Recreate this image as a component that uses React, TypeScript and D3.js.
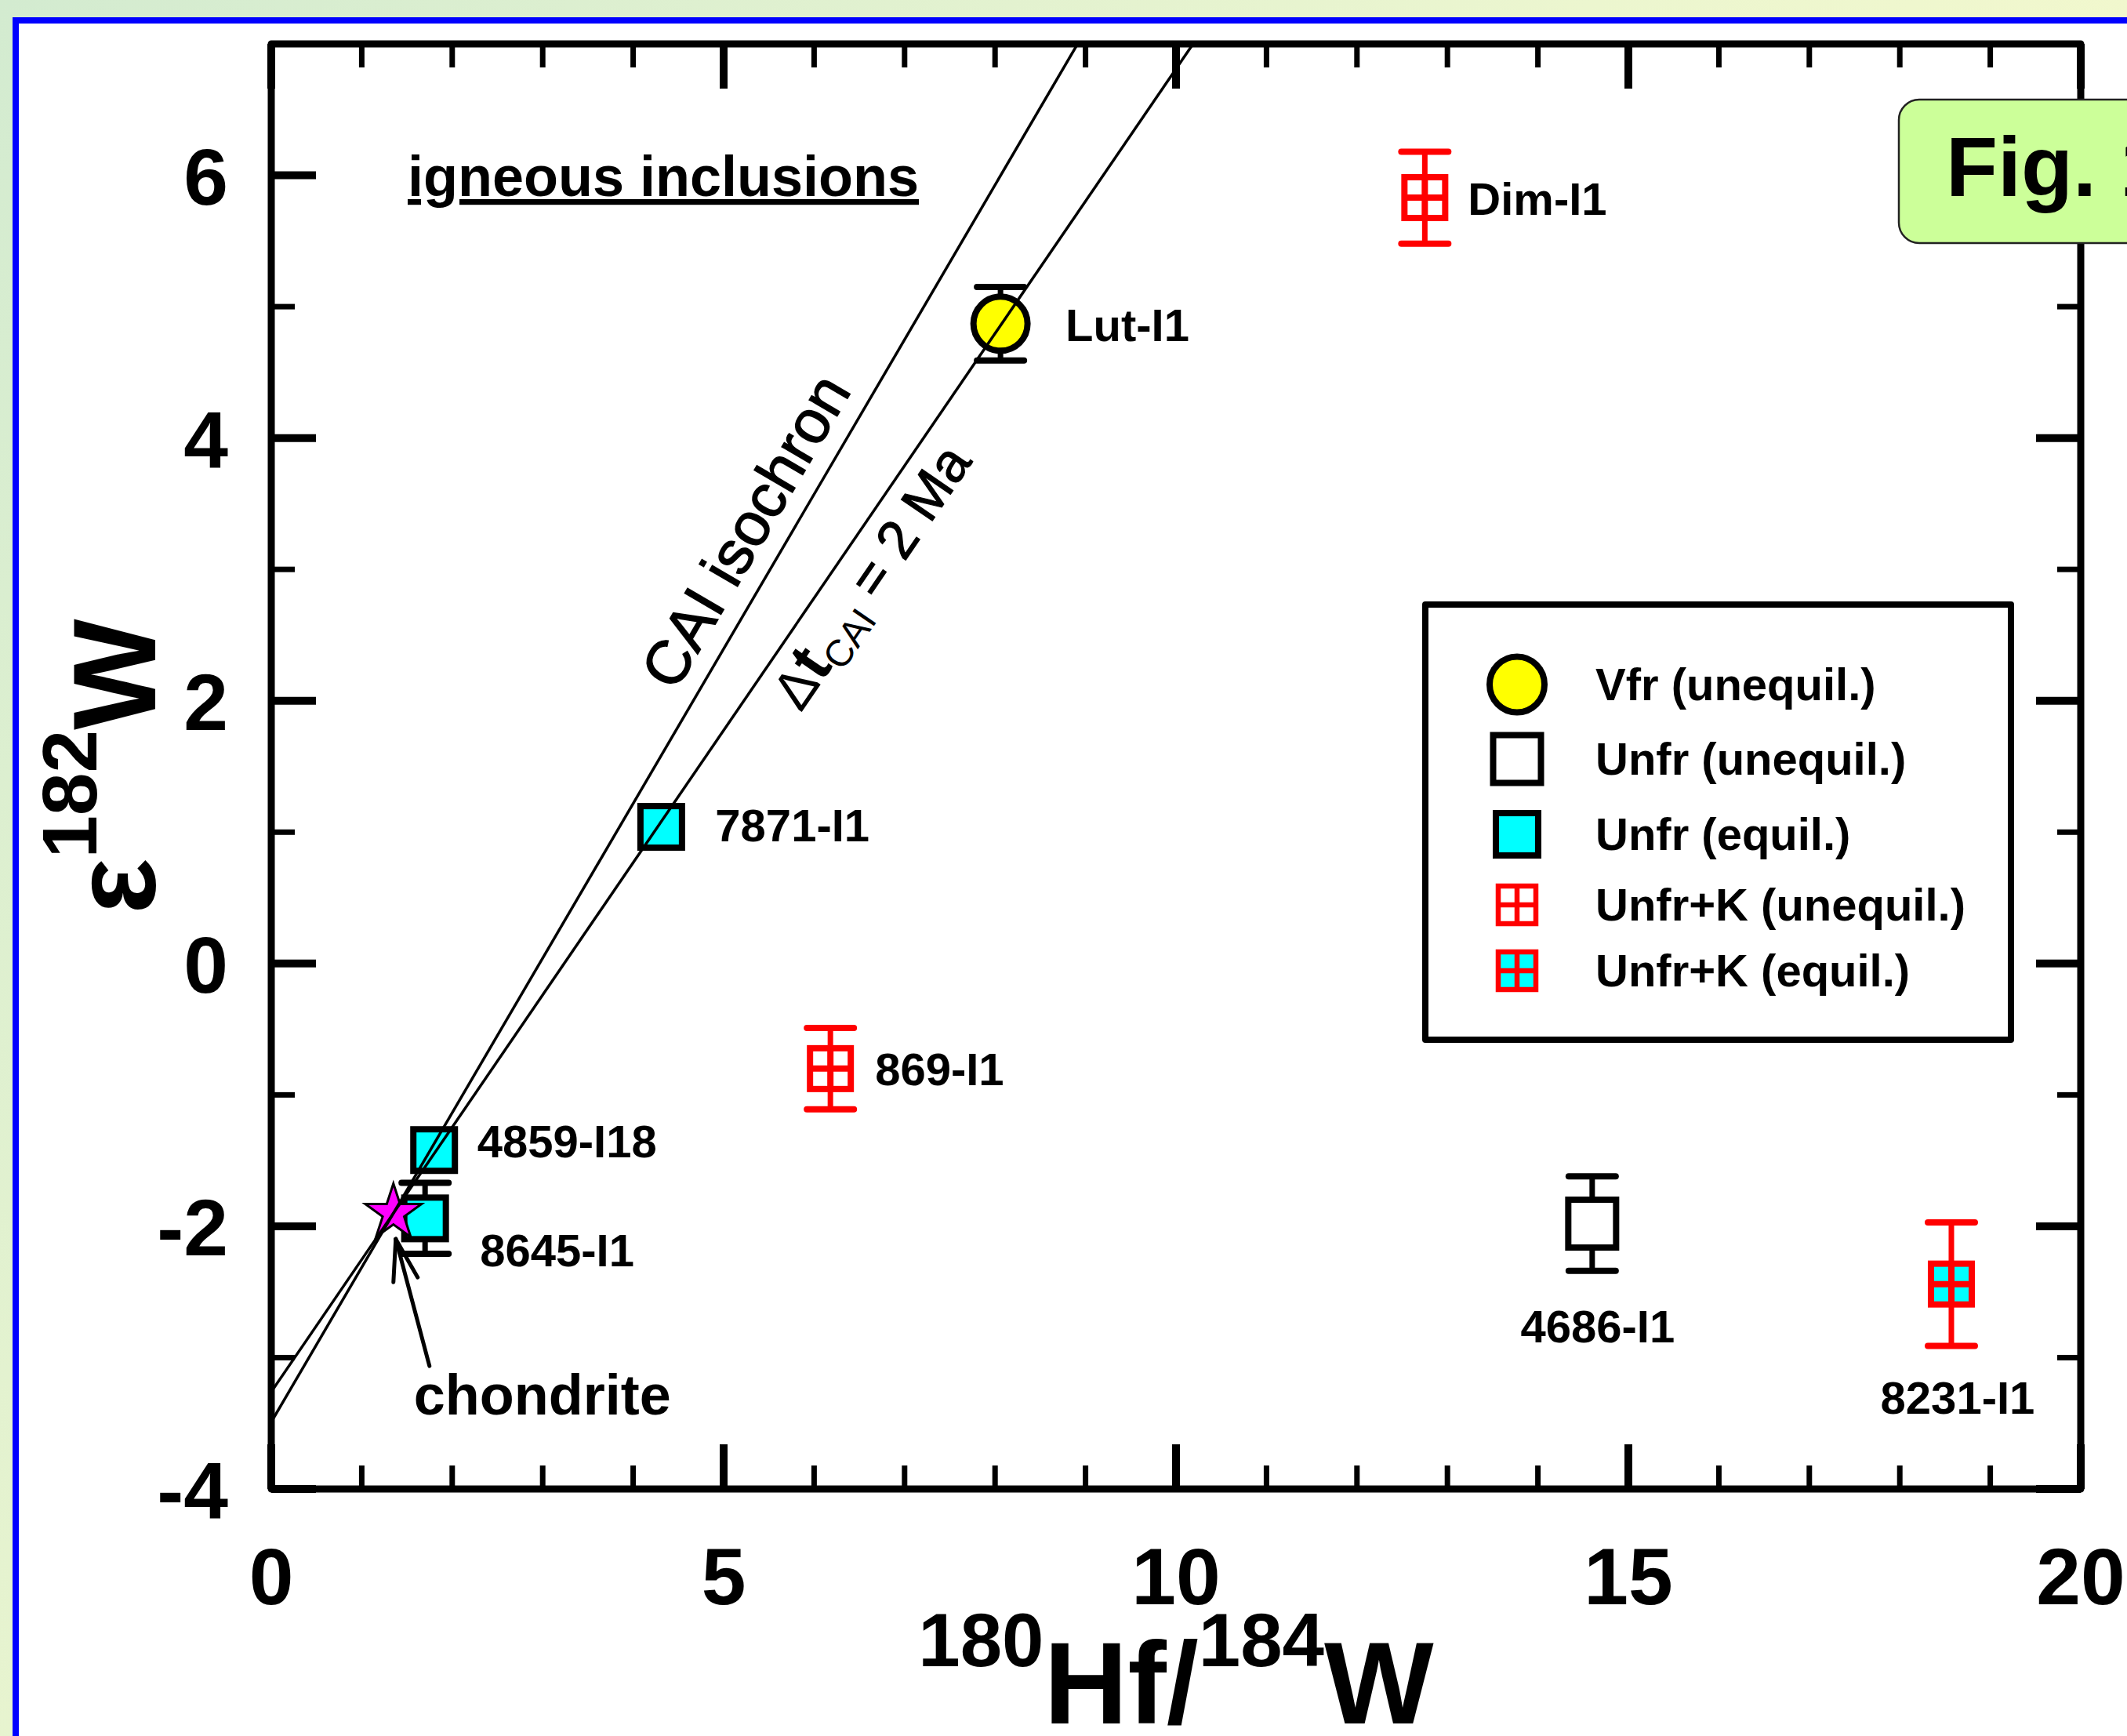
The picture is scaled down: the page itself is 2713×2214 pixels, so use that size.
import React from 'react';
import * as d3 from 'd3';

// ---------------- data ----------------
const sampleNames = ['Lut-I1', 'Dim-I1', '7871-I1', '869-I1', '4859-I18', '8645-I1', '4686-I1', '8231-I1'];
const sampleHfW = [8.06, 12.75, 4.31, 6.18, 1.8, 1.7, 14.6, 18.57];
const sampleEpsW = [4.87, 5.83, 1.04, -0.8, -1.42, -1.94, -1.98, -2.44];
const sampleErr = [0.28, 0.35, 0, 0.31, 0, 0.27, 0.36, 0.47];
const sampleGroup = ['vfr-uneq', 'unfrk-uneq', 'unfr-eq', 'unfrk-uneq', 'unfr-eq', 'unfr-eq', 'unfr-uneq', 'unfrk-eq'];

const legendGroups = ['vfr-uneq', 'unfr-uneq', 'unfr-eq', 'unfrk-uneq', 'unfrk-eq'];
const legendLabels = ['Vfr (unequil.)', 'Unfr (unequil.)', 'Unfr (equil.)', 'Unfr+K (unequil.)', 'Unfr+K (equil.)'];

const chondriteHfW = 1.35;
const chondriteEpsW = -1.9;

const isochronNames = ['CAI isochron', 'dt2Ma'];
const isochronIntercepts = [-3.49, -3.26];
const isochronSlopes = [1.177, 1.007];

const xMajorTicks = [0, 5, 10, 15, 20];
const xMinorTicks = [1, 2, 3, 4, 6, 7, 8, 9, 11, 12, 13, 14, 16, 17, 18, 19];
const yMajorTicks = [-4, -2, 0, 2, 4, 6];
const yMinorTicks = [-3, -1, 1, 3, 5];

// ---------------- layout ----------------
const W = 2713;
const H = 2214;
const PL = 346, PR = 2654, PT = 56, PB = 1899;
const FONT = '"Liberation Sans", Arial, Helvetica, sans-serif';

// label placement per sample (offset from marker centre, px)
const labelPos: Record<string, { dx: number; dy: number; anchor: string }> = {
  'Lut-I1': { dx: 83, dy: 22, anchor: 'start' },
  'Dim-I1': { dx: 55, dy: 22, anchor: 'start' },
  '7871-I1': { dx: 69, dy: 18, anchor: 'start' },
  '869-I1': { dx: 57, dy: 21, anchor: 'start' },
  '4859-I18': { dx: 55, dy: 9, anchor: 'start' },
  '8645-I1': { dx: 70, dy: 61, anchor: 'start' },
  '4686-I1': { dx: 7, dy: 151, anchor: 'middle' },
  '8231-I1': { dx: 8, dy: 165, anchor: 'middle' },
};

function Marker({ group, cx, cy, legend }: { group: string; cx: number; cy: number; legend?: boolean }) {
  if (group === 'vfr-uneq') {
    return <ellipse cx={cx} cy={cy} rx={legend ? 35 : 34.5} ry={legend ? 35.5 : 34.5} fill="#ffff00" stroke="#000" strokeWidth={8} />;
  }
  if (group === 'unfr-uneq') {
    const s = 61;
    return <rect x={cx - s / 2} y={cy - s / 2} width={s} height={s} fill="#fff" stroke="#000" strokeWidth={8} />;
  }
  if (group === 'unfr-eq') {
    const s = legend ? 54 : 53;
    return <rect x={cx - s / 2} y={cy - s / 2} width={s} height={s} fill="#00ffff" stroke="#000" strokeWidth={8} />;
  }
  const s = legend ? 48 : 52;
  const sw = legend ? 6.5 : 8;
  const fill = group === 'unfrk-eq' ? '#00ffff' : '#fff';
  return (
    <g>
      <rect x={cx - s / 2} y={cy - s / 2} width={s} height={s} fill={fill} stroke="#ff0000" strokeWidth={sw} />
      <line x1={cx} x2={cx} y1={cy - s / 2} y2={cy + s / 2} stroke="#ff0000" strokeWidth={sw} />
      <line x1={cx - s / 2} x2={cx + s / 2} y1={cy} y2={cy} stroke="#ff0000" strokeWidth={sw} />
    </g>
  );
}

export default function App() {
  const x = d3.scaleLinear().domain([0, 20]).range([PL, PR]);
  const y = d3.scaleLinear().domain([-4, 7]).range([PB, PT]);

  const samples = sampleNames.map((name, i) => ({
    name,
    hf: sampleHfW[i],
    ew: sampleEpsW[i],
    err: sampleErr[i],
    group: sampleGroup[i],
  }));

  const isochrons = isochronNames.map((n, i) => {
    const b = isochronIntercepts[i];
    const m = isochronSlopes[i];
    const xs = [0, 20];
    const path = d3
      .line<number>()
      .x((d) => x(d))
      .y((d) => y(b + m * d))(xs);
    const angle = (Math.atan2(y(b) - y(b + m), x(1) - x(0)) * 180) / Math.PI;
    return { n, b, m, path, angle };
  });

  // label anchors along isochrons
  const cai = isochrons[0];
  const caiAx = 5.63;
  const caiTh = (cai.angle * Math.PI) / 180;
  const caiP = [x(caiAx), y(cai.b + cai.m * caiAx)];
  const caiOff = 25;
  const caiLabel = [caiP[0] - Math.sin(caiTh) * caiOff, caiP[1] - Math.cos(caiTh) * caiOff];

  const dt = isochrons[1];
  const dtAx = 5.36;
  const dtTh = (dt.angle * Math.PI) / 180;
  const dtP = [x(dtAx), y(dt.b + dt.m * dtAx)];
  const dtOff = 69;
  const dtLabel = [dtP[0] + Math.sin(dtTh) * dtOff, dtP[1] + Math.cos(dtTh) * dtOff];

  const starPath = d3.symbol().type(d3.symbolStar).size(1600)() as string;
  const sx = x(chondriteHfW);
  const sy = y(chondriteEpsW);

  const legendRows = [873, 968, 1064, 1154, 1238];

  return (
    <svg width={W} height={H} style={{ position: 'absolute', left: 0, top: 0, display: 'block' }} fontFamily={FONT}>
      <defs>
        <linearGradient id="bg" x1="0" y1="0" x2="1" y2="0.6">
          <stop offset="0" stopColor="#d3ebd0" />
          <stop offset="0.55" stopColor="#ecf6cf" />
          <stop offset="1" stopColor="#f8facb" />
        </linearGradient>
        <clipPath id="plotclip">
          <rect x={PL} y={PT} width={PR - PL} height={PB - PT} />
        </clipPath>
      </defs>
      <rect x={0} y={0} width={W} height={H} fill="url(#bg)" />
      <rect x={20} y={26} width={W + 200} height={H + 200} fill="#fff" stroke="#0000ff" strokeWidth={8} />

      {/* ticks */}
      <g stroke="#000">
        {xMajorTicks.map((t) => (
          <g key={'xM' + t}>
            <line x1={x(t)} x2={x(t)} y1={PB} y2={PB - 57} strokeWidth={10} />
            <line x1={x(t)} x2={x(t)} y1={PT} y2={PT + 57} strokeWidth={10} />
          </g>
        ))}
        {xMinorTicks.map((t) => (
          <g key={'xm' + t}>
            <line x1={x(t)} x2={x(t)} y1={PB} y2={PB - 30} strokeWidth={7} />
            <line x1={x(t)} x2={x(t)} y1={PT} y2={PT + 30} strokeWidth={7} />
          </g>
        ))}
        {yMajorTicks.map((t) => (
          <g key={'yM' + t}>
            <line x1={PL} x2={PL + 57} y1={y(t)} y2={y(t)} strokeWidth={10} />
            <line x1={PR} x2={PR - 57} y1={y(t)} y2={y(t)} strokeWidth={10} />
          </g>
        ))}
        {yMinorTicks.map((t) => (
          <g key={'ym' + t}>
            <line x1={PL} x2={PL + 30} y1={y(t)} y2={y(t)} strokeWidth={7} />
            <line x1={PR} x2={PR - 30} y1={y(t)} y2={y(t)} strokeWidth={7} />
          </g>
        ))}
      </g>
      <rect x={PL} y={PT} width={PR - PL} height={PB - PT} fill="none" stroke="#000" strokeWidth={9} strokeLinejoin="round" />

      {/* tick labels */}
      <g fontWeight="bold" fontSize={102} fill="#000">
        {xMajorTicks.map((t) => (
          <text key={'xl' + t} x={x(t)} y={2046} textAnchor="middle">
            {t}
          </text>
        ))}
        {yMajorTicks.map((t) => (
          <text key={'yl' + t} x={291} y={y(t) + 37} textAnchor="end">
            {t}
          </text>
        ))}
      </g>

      {/* axis titles */}
      <text x={(PL + PR) / 2} y={2198} textAnchor="middle" fontWeight="bold" fill="#000">
        <tspan fontSize={96} dy={-73}>180</tspan>
        <tspan fontSize={148} dy={73}>Hf/</tspan>
        <tspan fontSize={96} dy={-73}>184</tspan>
        <tspan fontSize={148} dy={73}>W</tspan>
      </text>
      <text transform={`translate(198, ${(PT + PB) / 2}) rotate(-90)`} textAnchor="middle" fontWeight="bold" fill="#000">
        <tspan fontSize={150}>ε</tspan>
        <tspan fontSize={98} dy={-75}>182</tspan>
        <tspan fontSize={150} dy={75}>W</tspan>
      </text>

      {/* igneous inclusions */}
      <text x={520} y={250} fontSize={72} fontWeight="bold" fill="#000" textDecoration="underline">
        igneous inclusions
      </text>

      {/* error bars */}
      <g>
        {samples
          .filter((s) => s.err > 0)
          .map((s) => {
            const col = s.group.startsWith('unfrk') ? '#ff0000' : '#000';
            const cx = x(s.hf);
            return (
              <g key={'e' + s.name} stroke={col}>
                <line x1={cx} x2={cx} y1={y(s.ew + s.err)} y2={y(s.ew - s.err)} strokeWidth={7} />
                <line x1={cx - 30} x2={cx + 30} y1={y(s.ew + s.err)} y2={y(s.ew + s.err)} strokeWidth={8} strokeLinecap="round" />
                <line x1={cx - 30} x2={cx + 30} y1={y(s.ew - s.err)} y2={y(s.ew - s.err)} strokeWidth={8} strokeLinecap="round" />
              </g>
            );
          })}
      </g>

      {/* markers */}
      {samples.map((s) => (
        <Marker key={'m' + s.name} group={s.group} cx={x(s.hf)} cy={y(s.ew)} />
      ))}
      <path d={starPath} transform={`translate(${sx},${sy})`} fill="#ff00ff" stroke="#000" strokeWidth={3} />

      {/* isochron lines */}
      <g clipPath="url(#plotclip)">
        {isochrons.map((l) => (
          <path key={l.n} d={l.path as string} fill="none" stroke="#000" strokeWidth={3.5} />
        ))}
      </g>

      {/* isochron labels */}
      <text
        transform={`translate(${caiLabel[0]},${caiLabel[1]}) rotate(${-cai.angle})`}
        textAnchor="middle"
        fontSize={78}
        fill="#000"
        stroke="#000"
        strokeWidth={1.4}
      >
        CAI isochron
      </text>
      <text transform={`translate(${dtLabel[0]},${dtLabel[1]}) rotate(${-dt.angle})`} fontSize={70} fill="#000">
        <tspan>Δ</tspan>
        <tspan fontWeight="bold" fontSize={80}>t</tspan>
        <tspan fontSize={48} dy={14}>CAI</tspan>
        <tspan dy={-14} stroke="#000" strokeWidth={1.2}> = 2 Ma</tspan>
      </text>

      {/* sample labels */}
      <g fontSize={58} fontWeight="bold" fill="#000">
        {samples.map((s) => {
          const p = labelPos[s.name];
          return (
            <text key={'l' + s.name} x={x(s.hf) + p.dx} y={y(s.ew) + p.dy} textAnchor={p.anchor}>
              {s.name}
            </text>
          );
        })}
      </g>

      {/* chondrite annotation */}
      <g stroke="#000" strokeWidth={5} strokeLinecap="round" fill="none">
        <line x1={sx + 46} y1={sy + 195} x2={sx + 3} y2={sy + 33} />
        <line x1={sx + 3} y1={sy + 33} x2={sx} y2={sy + 88} />
        <line x1={sx + 3} y1={sy + 33} x2={sx + 31} y2={sy + 82} />
      </g>
      <text x={sx + 26} y={sy + 257} fontSize={72} fontWeight="bold" fill="#000">
        chondrite
      </text>

      {/* legend */}
      <rect x={1818} y={771} width={747} height={555} fill="#fff" stroke="#000" strokeWidth={8} strokeLinejoin="round" />
      {legendGroups.map((g, i) => (
        <g key={'lg' + g}>
          <Marker group={g} cx={1935} cy={legendRows[i]} legend />
          <text x={2035} y={legendRows[i] + 20} fontSize={58} fontWeight="bold" fill="#000">
            {legendLabels[i]}
          </text>
        </g>
      ))}

      {/* Fig. 1 box */}
      <rect x={2422} y={127} width={400} height={183} rx={26} ry={26} fill="#ccff99" stroke="#222" strokeWidth={2.5} />
      <text x={2482} y={250} fontSize={108} fontWeight="bold" fill="#000">
        Fig. 1
      </text>
    </svg>
  );
}
